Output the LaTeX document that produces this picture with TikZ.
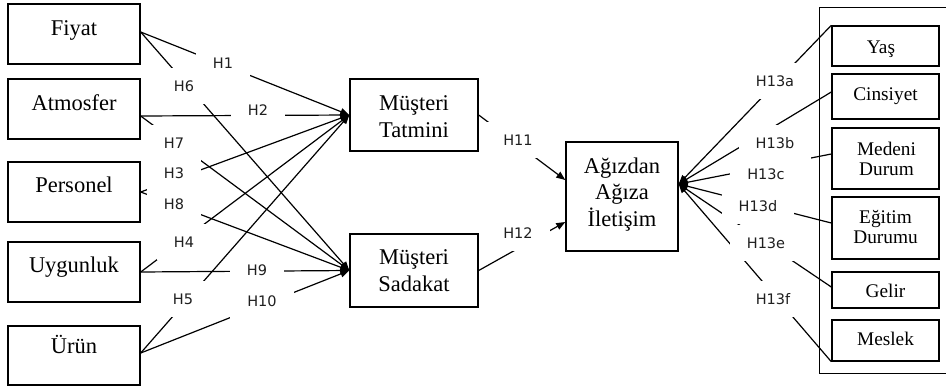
\documentclass[tikz,border=0pt]{standalone}
\usepackage{fontspec}
\setmainfont{Liberation Serif}
\newfontfamily\labfont{DejaVu Sans}
\usetikzlibrary{arrows.meta,calc}
\newcommand\mlines[1]{\begin{tabular}[t]{@{}c@{}}#1\end{tabular}}
\begin{document}
\begin{tikzpicture}[x=1pt,y=-1pt,
  box/.style={draw=black, line width=1.4pt, inner sep=0pt},
  bt/.style={font=\fontsize{22.5}{27}\selectfont, anchor=base, inner sep=0pt},
  rt/.style={font=\fontsize{19.3}{20}\selectfont, anchor=base, inner sep=0pt},
  hl/.style={fill=white, font=\labfont\fontsize{14.5}{17}\selectfont, inner xsep=17pt, minimum height=36pt, text=black!88},
  conn/.style={line width=1.2pt, -{Triangle[length=9pt,width=7pt]}}
]
\useasboundingbox (0,0) rectangle (946,386);
\clip (0,0) rectangle (946,386);

% left boxes
\node[box, minimum width=132pt, minimum height=60pt] (fiyat) at (74,34) {};
\node[box, minimum width=132pt, minimum height=60pt] (atm) at (74,109) {};
\node[box, minimum width=132pt, minimum height=60pt] (pers) at (74,192) {};
\node[box, minimum width=132pt, minimum height=60pt] (uyg) at (74,272) {};
\node[box, minimum width=132pt, minimum height=59pt] (urun) at (74,355.5) {};
\node[bt] (fiyat-t) at (74,35) {Fiyat};
\node[bt] (atm-t) at (74,110) {Atmosfer};
\node[bt] (pers-t) at (74,192) {Personel};
\node[bt] (uyg-t) at (74,272) {Uygunluk};
\node[bt] (urun-t) at (74,353) {Ürün};

% middle boxes
\node[box, minimum width=128pt, minimum height=72pt] (tat) at (414,115) {};
\node[box, minimum width=128pt, minimum height=73pt] (sad) at (414,270.5) {};
\node[box, minimum width=112pt, minimum height=109pt] (agiz) at (622,196.5) {};
\node[bt] (tat-t) at (414,110) {\mlines{Müşteri\\Tatmini}};
\node[bt] (sad-t) at (414,264) {\mlines{Müşteri\\Sadakat}};
\node[bt, font=\fontsize{22.5}{26.5}\selectfont] (agiz-t) at (622,173) {\mlines{Ağızdan\\Ağıza\\İletişim}};

% right group
\node[box, anchor=north west, minimum width=150pt, minimum height=366pt] (outer) at (819,7) {};
\node[box, minimum width=107pt, minimum height=40pt] (yas) at (885.5,46) {};
\node[box, minimum width=107pt, minimum height=45pt] (cins) at (885.5,96.5) {};
\node[box, minimum width=107pt, minimum height=61pt] (med) at (885.5,158.5) {};
\node[box, minimum width=107pt, minimum height=62pt] (egit) at (885.5,228) {};
\node[box, minimum width=107pt, minimum height=36pt] (gelir) at (885.5,290) {};
\node[box, minimum width=107pt, minimum height=41pt] (meslek) at (885.5,340.5) {};
\node[rt] (yas-t) at (881,53) {Yaş};
\node[rt] (cins-t) at (885.5,100) {Cinsiyet};
\node[rt] (med-t) at (886.5,155) {\mlines{Medeni\\Durum}};
\node[rt] (egit-t) at (885.5,223) {\mlines{Eğitim\\Durumu}};
\node[rt] (gelir-t) at (885.5,297) {Gelir};
\node[rt] (meslek-t) at (885.5,345) {Meslek};

% anchor points
\coordinate (fiyR) at ($(fiyat.east)+(0,-2)$);
\coordinate (atmR) at ($(atm.east)+(0,7)$);
\coordinate (urunR) at ($(urun.east)+(0,-2.5)$);
\coordinate (agizL1) at ($(agiz.west)+(0,-16.5)$);
\coordinate (agizL2) at ($(agiz.west)+(0,25.5)$);
\coordinate (agizR) at ($(agiz.east)+(0,-12.5)$);

% connectors to Tatmini
\draw[conn] (fiyR) -- (tat.west);
\draw[conn] (atmR) -- (tat.west);
\draw[conn] (pers.east) -- (tat.west);
\draw[conn] (uyg.east) -- (tat.west);
\draw[conn] (urunR) -- (tat.west);
% connectors to Sadakat
\draw[conn] (fiyR) -- (sad.west);
\draw[conn] (atmR) -- (sad.west);
\draw[conn] (pers.east) -- (sad.west);
\draw[conn] (uyg.east) -- (sad.west);
\draw[conn] (urunR) -- (sad.west);
% to Agizdan
\draw[conn] (tat.east) -- (agizL1);
\draw[conn] (sad.east) -- (agizL2);
% from demographics
\draw[conn] (yas.north west) -- (agizR);
\draw[conn] ($(cins.west)+(0,-4.5)$) -- (agizR);
\draw[conn] ($(med.west)+(0,-4.5)$) -- (agizR);
\draw[conn] ($(egit.west)+(0,-5)$) -- (agizR);
\draw[conn] ($(gelir.west)+(0,-3)$) -- (agizR);
\draw[conn] (meslek.south west) -- (agizR);

% labels
\node[hl] (h1) at (223,63) {H1};
\node[hl] (h6) at (184,86) {H6};
\node[hl] (h2) at (258,110) {H2};
\node[hl] (h7) at (174,143) {H7};
\node[hl] (h3) at (174,173) {H3};
\node[hl] (h8) at (174,204) {H8};
\node[hl] (h4) at (184,242) {H4};
\node[hl] (h5) at (183,299) {H5};
\node[hl] (h9) at (257,270) {H9};
\node[hl] (h10) at (262,301) {H10};
\node[hl] (h11) at (518,140) {H11};
\node[hl] (h12) at (518,233) {H12};
\node[hl] (h13a) at (775,81) {H13a};
\node[hl] (h13b) at (775,143) {H13b};
\node[hl] (h13c) at (766,174) {H13c};
\node[hl] (h13d) at (758,206) {H13d};
\node[hl] (h13e) at (766,243) {H13e};
\node[hl] (h13f) at (773,299) {H13f};
\end{tikzpicture}
\end{document}
